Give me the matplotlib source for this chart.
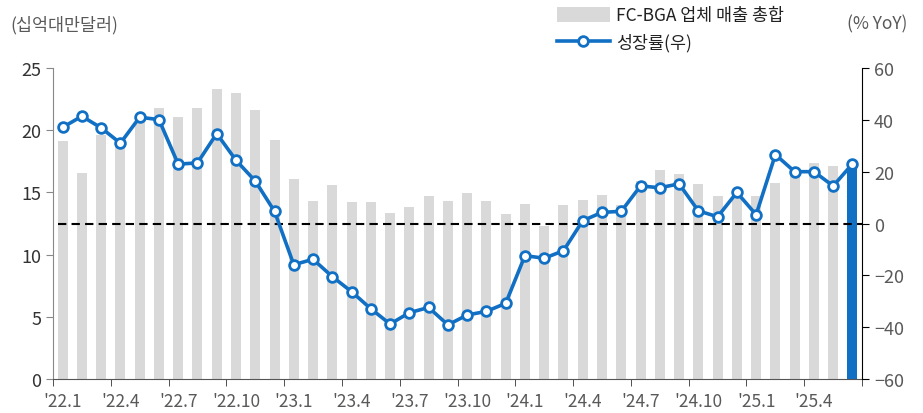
import matplotlib
matplotlib.use('Agg')
import matplotlib.pyplot as plt
import numpy as np
from matplotlib.patches import Patch
from matplotlib.lines import Line2D

plt.rcParams['font.family'] = ['Noto Sans CJK KR', 'DejaVu Sans']

# 월별 FC-BGA 업체 매출 총합 (십억대만달러), '22.1 ~ '25.6
sales = [19.1, 16.6, 19.6, 18.9, 21.0, 21.8, 21.05, 21.8, 23.35, 22.98, 21.6, 19.2,
         16.05, 14.27, 15.6, 14.2, 14.2, 13.36, 13.85, 14.73, 14.27, 14.92, 14.27, 13.3,
         14.1, 12.3, 14.0, 14.4, 14.8, 13.97, 15.9, 16.77, 16.45, 15.7, 14.7, 14.7,
         14.7, 15.75, 16.9, 17.35, 17.1, 17.3]
# 성장률 (% YoY)
growth = [37.1, 41.4, 36.9, 31.0, 41.0, 40.1, 22.9, 23.4, 34.7, 24.4, 16.4, 4.7,
          -15.9, -13.8, -20.5, -26.3, -32.9, -38.8, -34.4, -32.4, -39.1, -35.3, -33.9, -30.8,
          -12.4, -13.4, -10.5, 1.1, 4.3, 4.7, 14.5, 13.8, 15.3, 4.9, 2.6, 12.0,
          3.4, 26.6, 20.0, 20.0, 14.5, 23.0]
tick_labels = ["'22.1", "'22.4", "'22.7", "'22.10", "'23.1", "'23.4", "'23.7", "'23.10",
               "'24.1", "'24.4", "'24.7", "'24.10", "'25.1", "'25.4"]

blue = '#1170C4'
gray = '#D9D9D9'
txt = '#595959'

x = np.arange(len(sales))
colors = [gray] * (len(sales) - 1) + [blue]

fig = plt.figure(figsize=(9.23, 4.14), dpi=100)
ax = fig.add_axes([0.0574, 0.0821, 0.8766, 0.7512])
ax.bar(x, sales, width=0.52, color=colors, zorder=1)
ax.set_xlim(-0.5, len(sales) - 0.5)
ax.set_ylim(0, 25)
ax.set_yticks([0, 5, 10, 15, 20, 25])

ax2 = ax.twinx()
ax2.set_ylim(-60, 60)
ax2.set_yticks(range(-60, 61, 20))
ax2.axhline(0, xmin=0.006, color='black', lw=1.5, ls=(0, (4, 2.5)), zorder=2)
ax2.plot(x, growth, color=blue, lw=2.6, marker='o', ms=7, mfc='white',
         mec=blue, mew=2, zorder=3)

ax.set_xticks(x[::3])
ax.set_xticklabels(tick_labels)
ax.set_xticks(np.arange(-0.5, len(sales), 3), minor=True)
ax.tick_params(axis='x', which='major', length=0, pad=9, labelsize=12.5, labelcolor=txt)
ax.tick_params(axis='x', which='minor', length=5, color='#333333')
ax.tick_params(axis='y', length=5, labelsize=13, labelcolor='#333333', color='#888888')
ax2.tick_params(axis='y', length=5, labelsize=13, labelcolor=txt, color='black')

for a in (ax, ax2):
    a.spines['top'].set_visible(False)
ax.spines['right'].set_visible(False)
ax.spines['left'].set_color('#888888')
ax.spines['bottom'].set_color('#555555')
ax2.spines['left'].set_visible(False)
ax2.spines['bottom'].set_visible(False)
ax2.spines['right'].set_color('black')

fig.text(0.011, 0.94, '(십억대만달러)', fontsize=12.5, color=txt, va='center')
fig.text(0.918, 0.94, '(% YoY)', fontsize=12.5, color=txt, va='center')

handles = [Patch(facecolor=gray, edgecolor='none'),
           Line2D([0], [0], color=blue, lw=2.6, marker='o', ms=7, mfc='white', mec=blue, mew=2)]
fig.legend(handles, ['FC-BGA 업체 매출 총합', '성장률(우)'], loc='upper left',
           bbox_to_anchor=(0.587, 1.02), frameon=False, fontsize=12.5,
           handlelength=3.0, handleheight=1.0, handletextpad=0.4, labelspacing=0.5,
           labelcolor='#222222')

fig.savefig('out.png', dpi=100)
